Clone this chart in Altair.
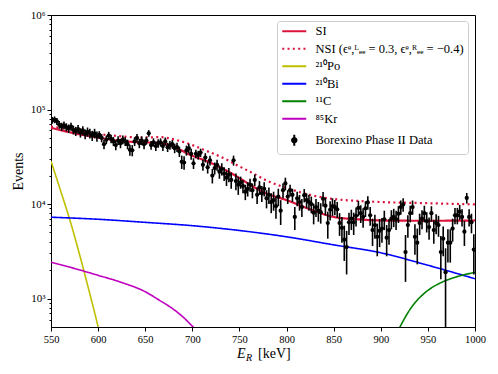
import altair as alt
import pandas as pd

# ---------------- data points (Borexino Phase II), 2.5 keV bins ----------------
E_FIRST = 551.25
E_STEP = 2.5
seg1 = [77000, 78000, 75000, 69000, 66000, 68000, 65000, 63000, 66000, 61000,
        59000, 62000, 57000, 60000, 55000, 58000, 56000, 53000, 56000, 52000]
seg2 = [54000, 50000, 43000, 48000, 53000, 49000, 46000, 42000, 47000, 44000,
        48000, 46000, 43000, 37500, 37000, 46000, 50000, 44000, 47000, 43000]
seg3 = [47000, 56000, 42000, 45000, 41000, 44000, 45000, 41000, 46000, 40000,
        42000, 43000, 39000, 40000, 36000, 28000, 27500, 37000, 39000, 34000]
seg4 = [27000, 34000, 33000, 35000, 26000, 31000, 24500, 29000, 20000, 24000,
        26000, 22000, 23500, 21000, 19000, 20500, 18000, 29000, 17500, 16000]
seg5 = [17000, 15500, 13500, 14500, 16000, 14000, 18000, 12500, 15000, 13000,
        14500, 11500, 12500, 10500, 11000, 9500, 12000, 8500, 14000, 16500]
seg6 = [12000, 14000, 12500, 7300, 11500, 10500, 9300, 12400, 11000, 10500,
        10000, 8100, 9300, 8500, 8200, 11400, 9600, 6300, 8700, 9500]
seg7 = [9300, 8800, 6300, 5600, 4200, 3500, 6400, 7000, 6400, 7500,
        9100, 8000, 7300, 9000, 10400, 7600, 5300, 6000, 4500, 5200]
seg8 = [5500, 6900, 4400, 5300, 7000, 7300, 6900, 7900, 9300, 9900,
        3100, 6000, 8000, 9300, 4500, 3900, 6300, 7000, 8000, 6600]
seg9 = [5700, 8000, 5300, 6300, 6000, 3100, 4300, 1900, 3900, 3900,
        5500, 7600, 7600, 8300, 7300, 5100, 11600, 7300, 6400, 3300]
seg_err = [6500, 5000, 4500, 3500, 2500, 2000, 1700, 1600, 1500]

counts = seg1 + seg2 + seg3 + seg4 + seg5 + seg6 + seg7 + seg8 + seg9
energies = [E_FIRST + E_STEP * i for i in range(len(counts))]
errors = [seg_err[i // 20] for i in range(len(counts))]

# ---------------- model curves ----------------
si_E = [550, 575, 600, 625, 645, 662, 680, 698, 715, 733, 750, 765, 780, 800, 825, 850, 875, 900, 950, 1000]
si_N = [64000, 56000, 50500, 46500, 45000, 44500, 40500, 33000, 28500, 23500, 18800, 15200, 12800, 11000,
        8800, 7300, 6900, 6700, 6650, 6700]
nsi_E = [550, 575, 600, 625, 645, 665, 685, 700, 715, 735, 750, 765, 780, 800, 825, 850, 875, 900, 950, 1000]
nsi_N = [66000, 60000, 55000, 52000, 50500, 51000, 47000, 42000, 36500, 30000, 25000, 21000, 17500, 14800,
         12500, 11300, 10800, 10500, 10200, 9900]
po_E = [550, 560, 570, 580, 590, 600, 605]
po_N = [28500, 14000, 6800, 3000, 1250, 500, 300]
bi_E = [550, 600, 650, 700, 750, 800, 850, 900, 950, 1000]
bi_N = [7250, 6900, 6400, 5900, 5250, 4500, 3700, 3050, 2250, 1620]
kr_E = [550, 575, 600, 625, 650, 665, 680, 690, 700, 705]
kr_N = [2420, 2080, 1760, 1480, 1180, 960, 770, 640, 510, 455]
c_E = [918, 925, 930, 937, 945, 955, 965, 975, 987, 1000]
c_N = [450, 610, 740, 920, 1110, 1320, 1490, 1630, 1770, 1890]

NSI_LABEL = "NSI (ϵᵉ,ᴸₑₑ = 0.3, ϵᵉ,ᴿₑₑ = −0.4)"
names = ["SI", NSI_LABEL, "²¹⁰Po", "²¹⁰Bi", "¹¹C", "⁸⁵Kr", "Borexino Phase II Data"]
colors = ["#dc143c", "#dc143c", "#bfbf00", "#0000ff", "#008000", "#bf00bf", "#000000"]
dashes = [[1, 0], [2, 3.3], [1, 0], [1, 0], [1, 0], [1, 0], [1, 0]]
LINE_PATH = "M-1,0H3.8"
DATA_PATH = "M1.4,-1.1V1.1M1.84,0A0.44,0.44,0,1,1,0.96,0A0.44,0.44,0,1,1,1.84,0"
shapes = [LINE_PATH] * 6 + [DATA_PATH]


def curve(name, E, N):
    return pd.DataFrame({"E": E, "N": N, "series": name})


df_si = curve(names[0], si_E, si_N)
df_nsi = curve(names[1], nsi_E, nsi_N)
df_bg = pd.concat([curve(names[2], po_E, po_N), curve(names[3], bi_E, bi_N),
                   curve(names[4], c_E, c_N), curve(names[5], kr_E, kr_N)])
df_data = pd.DataFrame({"E": energies, "N": counts, "err": errors})
df_data["lo"] = df_data["N"] - df_data["err"]
df_data["hi"] = df_data["N"] + df_data["err"]
df_data["series"] = names[6]

FONT = "Liberation Serif"

x_enc = alt.X("E:Q", scale=alt.Scale(domain=[550, 1000], nice=False, zero=False),
              axis=alt.Axis(values=list(range(550, 1001, 50)), format="d", title=None, grid=False,
                            tickSize=4, labelFontSize=10.5, labelPadding=3, labelFlush=False,
                            domainColor="black", tickColor="black", labelColor="black",
                            labelFont=FONT))
major = [1000, 10000, 100000, 1000000]
minor = [600, 700, 800, 900] + [k * 1000 for k in range(2, 10)] + [k * 10000 for k in range(2, 10)] \
    + [k * 100000 for k in range(2, 10)]
y_axis = alt.Axis(values=major + minor, grid=False, title="Events", titleFont=FONT, titleFontSize=14,
                  titleFontWeight="normal", titleColor="black", titleX=-33, titleY=156,
                  titleBaseline="middle",
                  labelExpr="datum.value == 1000 ? '10³' : datum.value == 10000 ? '10⁴' : "
                            "datum.value == 100000 ? '10⁵' : datum.value == 1000000 ? '10⁶' : ''",
                  tickSize={"condition": {"test": "datum.value == 1000 || datum.value == 10000 || "
                                                  "datum.value == 100000 || datum.value == 1000000",
                                          "value": 4}, "value": 2},
                  labelFontSize=11, labelPadding=2, labelFont=FONT,
                  domainColor="black", tickColor="black", labelColor="black")
y_enc = alt.Y("N:Q", scale=alt.Scale(type="log", domain=[500, 1000000], nice=False), axis=y_axis)

legend = alt.Legend(title=None, orient="none", legendX=226, legendY=6, padding=4,
                    symbolSize=100, symbolStrokeWidth=2, labelOffset=22, rowPadding=4.5,
                    labelFont=FONT, labelFontSize=12.5, labelColor="black",
                    fillColor="white", strokeColor="#cccccc", cornerRadius=3,
                    symbolFillColor="black", labelLimit=300)
color_enc = alt.Color("series:N", scale=alt.Scale(domain=names, range=colors), legend=legend)
dash_enc = alt.StrokeDash("series:N", scale=alt.Scale(domain=names, range=dashes), legend=legend)
shape_enc = alt.Shape("series:N", scale=alt.Scale(domain=names, range=shapes), legend=legend)

bg = alt.Chart(df_bg).mark_line(clip=True, strokeWidth=1.6, interpolate="monotone").encode(
    x=x_enc, y=y_enc, color=color_enc, strokeDash=dash_enc, detail="series:N")
si = alt.Chart(df_si).mark_line(clip=True, strokeWidth=2.2, interpolate="monotone").encode(
    x=x_enc, y=y_enc, color=color_enc, strokeDash=dash_enc)
nsi = alt.Chart(df_nsi).mark_line(clip=True, strokeWidth=2.2, interpolate="monotone").encode(
    x=x_enc, y=y_enc, color=color_enc, strokeDash=dash_enc)
bars = alt.Chart(df_data).mark_rule(clip=True, strokeWidth=1.6, color="black").encode(
    x=x_enc, y=alt.Y("lo:Q", scale=alt.Scale(type="log", domain=[500, 1000000], nice=False), axis=y_axis),
    y2="hi:Q")
pts = alt.Chart(df_data).mark_circle(clip=True, size=18, color="black", opacity=1).encode(
    x=x_enc, y=y_enc)
leg = alt.Chart(df_data).mark_point(filled=True, opacity=1).encode(
    x=x_enc, y=y_enc, color=color_enc, strokeDash=dash_enc, shape=shape_enc
).transform_filter("datum.E > 5000")

title_df = pd.DataFrame({"t": ["x"]})
tE = alt.Chart(title_df).mark_text(text="E", font=FONT, fontSize=14, fontStyle="italic", align="left",
                                   baseline="alphabetic", color="black").encode(
    x=alt.value(186), y=alt.value(343))
tR = alt.Chart(title_df).mark_text(text="R", font=FONT, fontSize=10, fontStyle="italic", align="left",
                                   baseline="alphabetic", color="black").encode(
    x=alt.value(195), y=alt.value(346))
tK = alt.Chart(title_df).mark_text(text="[keV]", font=FONT, fontSize=14, align="left",
                                   baseline="alphabetic", color="black").encode(
    x=alt.value(207), y=alt.value(343))

chart = alt.layer(bg, si, nsi, bars, pts, leg, tE, tR, tK).properties(
    width=424, height=312,
    autosize=alt.AutoSizeParams(type="none"),
    padding={"left": 43, "top": 7, "right": 15, "bottom": 45},
).configure_view(stroke="black", strokeWidth=1)

chart.save("out.html", embed_options={"renderer": "svg", "actions": False})
